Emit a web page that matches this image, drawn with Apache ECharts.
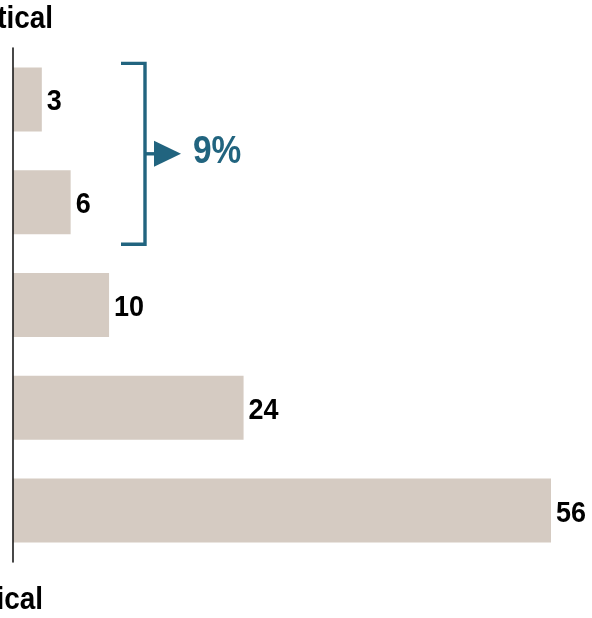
<!DOCTYPE html>
<html>
<head>
<meta charset="utf-8">
<script src="https://cdn.jsdelivr.net/npm/echarts@6/dist/echarts.min.js"></script>
<style>
html,body{margin:0;padding:0;background:#fff;}
#chart{width:592px;height:618px;}
</style>
</head>
<body>
<div id="chart"></div>
<script>
var categories = ["Item 1", "Item 2", "Item 3", "Item 4", "Item 5"];
var values = [3, 6, 10, 24, 56];
var topLabel = "tical";
var bottomLabel = "ical";
var bracketGroup = [0, 1];

var FONT = '"Liberation Sans", Arial, sans-serif';
var ACCENT = '#21647f';

var chart = echarts.init(document.getElementById('chart'), null, {renderer: 'canvas'});
chart.setOption({
  animation: false,
  grid: {left: 13, right: 41, top: 48, bottom: 56, containLabel: false},
  xAxis: {type: 'value', min: 0, max: 56, show: false},
  yAxis: {
    type: 'category', data: categories, inverse: true, z: 5,
    axisLine: {show: true, lineStyle: {color: '#1a1a1a', width: 1.6}},
    axisTick: {show: false}, axisLabel: {show: false}, splitLine: {show: false}
  },
  series: [{
    type: 'bar', data: values, barWidth: 64,
    itemStyle: {color: '#d5cbc2'},
    label: {show: false}
  }]
});

function scaledText(x, y, text, size, scale, color, align, valign) {
  return {
    type: 'text', x: x, y: y, scaleX: scale, z: 10,
    style: {text: text, fill: color, font: 'bold ' + size + 'px ' + FONT,
            textAlign: align, textVerticalAlign: valign}
  };
}

function draw() {
  var g = [];
  values.forEach(function (v, i) {
    var p = chart.convertToPixel({gridIndex: 0}, [v, categories[i]]);
    g.push(scaledText(p[0] + 5, p[1] + 3, String(v), 29, 0.93, '#000', 'left', 'middle'));
  });
  var pTop = chart.convertToPixel({yAxisIndex: 0}, categories[bracketGroup[0]]);
  var pBot = chart.convertToPixel({yAxisIndex: 0}, categories[bracketGroup[1]]);
  var y0 = pTop - 36;
  var y1 = pBot + 42;
  var xv = 145;
  var xl = 121;
  var ym = (y0 + y1) / 2;
  var pct = 0;
  bracketGroup.forEach(function (i) { pct += values[i]; });
  g.push(
    {type: 'polyline', shape: {points: [[xl, y0], [xv, y0], [xv, y1], [xl, y1]]},
     style: {stroke: ACCENT, lineWidth: 3.4, fill: null, lineJoin: 'miter'}},
    {type: 'line', shape: {x1: xv, y1: ym, x2: 156, y2: ym},
     style: {stroke: ACCENT, lineWidth: 3.4}},
    {type: 'polygon', shape: {points: [[154, ym - 13], [181, ym], [154, ym + 13]]},
     style: {fill: ACCENT}},
    scaledText(193, ym - 1, pct + '%', 38, 0.88, ACCENT, 'left', 'middle'),
    scaledText(53, 35, topLabel, 31, 0.9, '#000', 'right', 'bottom'),
    scaledText(43, 616, bottomLabel, 31, 0.9, '#000', 'right', 'bottom')
  );
  chart.setOption({graphic: g});
}
draw();
</script>
</body>
</html>
